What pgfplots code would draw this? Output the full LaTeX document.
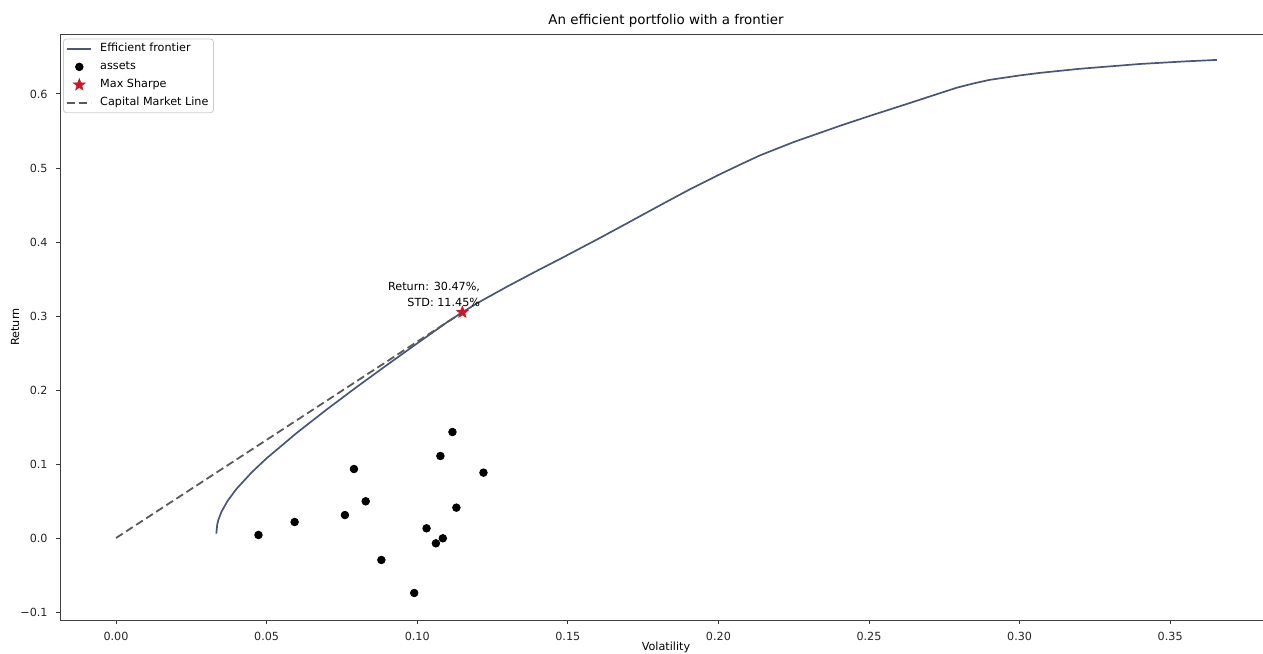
\documentclass[border=0pt]{standalone}
\usepackage{fontspec}
\setmainfont{DejaVu Sans}
\usepackage{pgfplots}
\pgfplotsset{compat=1.18}

\definecolor{frontier}{RGB}{74,86,120}
\definecolor{cml}{RGB}{90,90,90}
\definecolor{sharpe}{RGB}{200,24,40}

% filled five-pointed star
\pgfdeclareplotmark{fstar}{%
  \pgfpathmoveto{\pgfpointpolar{90}{\pgfplotmarksize}}%
  \pgfpathlineto{\pgfpointpolar{126}{0.42\pgfplotmarksize}}%
  \pgfpathlineto{\pgfpointpolar{162}{\pgfplotmarksize}}%
  \pgfpathlineto{\pgfpointpolar{198}{0.42\pgfplotmarksize}}%
  \pgfpathlineto{\pgfpointpolar{234}{\pgfplotmarksize}}%
  \pgfpathlineto{\pgfpointpolar{270}{0.42\pgfplotmarksize}}%
  \pgfpathlineto{\pgfpointpolar{306}{\pgfplotmarksize}}%
  \pgfpathlineto{\pgfpointpolar{342}{0.42\pgfplotmarksize}}%
  \pgfpathlineto{\pgfpointpolar{18}{\pgfplotmarksize}}%
  \pgfpathlineto{\pgfpointpolar{54}{0.42\pgfplotmarksize}}%
  \pgfpathclose
  \pgfusepathqfillstroke}

\pgfplotsset{
  lineleg/.style={legend image code/.code={\draw[sharp corners,##1] (0pt,0pt) -- (12pt,0pt);}},
  markleg/.style={legend image code/.code={\draw[sharp corners,##1] plot coordinates {(6pt,0pt)};}},
}

\newcommand{\smallfont}{\fontsize{5.6pt}{6.7pt}\selectfont}

\begin{document}
\begin{tikzpicture}
\begin{axis}[
    at={(0pt,0pt)}, anchor=south west,
    scale only axis,
    width=606pt, height=293pt,
    xmin=-0.0186, xmax=0.3838,
    ymin=-0.1108, ymax=0.681,
    axis lines*=left,
    xtick={0,0.05,0.10,0.15,0.20,0.25,0.30,0.35},
    xticklabels={0.00,0.05,0.10,0.15,0.20,0.25,0.30,0.35},
    ytick={-0.1,0,0.1,0.2,0.3,0.4,0.5,0.6},
    yticklabels={−0.1,0.0,0.1,0.2,0.3,0.4,0.5,0.6},
    tick pos=left,
    tick align=outside,
    major tick length=2pt,
    tick style={black!80, line width=0.45pt},
    axis line style={black!75, line width=0.45pt},
    tick label style={font=\smallfont, black!85, inner sep=0pt},
    xticklabel style={anchor=north, yshift=-4pt},
    yticklabel style={anchor=east, xshift=-4pt},
    title={An efficient portfolio with a frontier},
    every axis title/.style={at={(axis description cs:0.5,1)}, anchor=base, yshift=4.75pt,
        font=\fontsize{6.7pt}{8pt}\selectfont},
    xlabel={Volatility},
    xlabel style={at={(axis description cs:0.5,0)}, anchor=base, yshift=-15pt, font=\smallfont},
    ylabel={Return},
    ylabel style={at={(axis description cs:-0.0371,0.5)}, anchor=center, rotate=0, font=\smallfont},
    legend style={at={(axis description cs:0.0025,0.992)}, anchor=north west,
        draw=black!20, rounded corners=1.5pt, fill=white,
        font=\smallfont, inner xsep=1.5pt, inner ysep=1.2pt, row sep=1.6pt,
        nodes={inner sep=1pt, text height=4.2pt, text depth=1.2pt},
        /tikz/every odd column/.append style={column sep=3pt}},
    legend cell align=left,
]
\addplot[frontier, line width=0.85pt, no markers, lineleg]
coordinates {
(0.0333,0.0060) (0.0336,0.0182) (0.0340,0.0247) (0.0350,0.0354) (0.0370,0.0499)
(0.0400,0.0664) (0.0450,0.0885) (0.0500,0.1077) (0.0600,0.1420) (0.0700,0.1738)
(0.0800,0.2043) (0.0900,0.2339) (0.1000,0.2630) (0.1100,0.2918) (0.1150,0.3050)
(0.1200,0.3175) (0.1300,0.3400) (0.1400,0.3615) (0.1474,0.3770) (0.1600,0.4040)
(0.1700,0.4260) (0.1806,0.4495) (0.1900,0.4700) (0.2000,0.4905) (0.2072,0.5045)
(0.2138,0.5170) (0.2250,0.5350) (0.2404,0.5570) (0.2500,0.5700) (0.2626,0.5865)
(0.2720,0.5990) (0.2792,0.6085) (0.2845,0.6140) (0.2900,0.6190) (0.3000,0.6250)
(0.3068,0.6285) (0.3200,0.6340) (0.3400,0.6405) (0.3550,0.6440) (0.3655,0.6460)
};
\addlegendentry{Efficient frontier}

\addplot[only marks, mark=*, mark size=1.9pt, black, markleg]
coordinates {
(0.0473,0.0041) (0.0593,0.0216) (0.0760,0.0310) (0.0790,0.0932) (0.0829,0.0496)
(0.0881,-0.0297) (0.0990,-0.0743) (0.1031,0.0131) (0.1062,-0.0072) (0.1085,-0.0004)
(0.1077,0.1108) (0.1117,0.1432) (0.1130,0.0410) (0.1220,0.0883)
};
\addlegendentry{assets}

\addplot[only marks, mark=fstar, mark size=3.2pt, sharpe, line width=0.2pt, markleg]
coordinates {(0.1150,0.3050)};
\addlegendentry{Max Sharpe}

\addplot[cml, line width=0.9pt, dash pattern=on 4pt off 2pt, no markers, lineleg]
coordinates {(0,0) (0.1150,0.3050)};
\addlegendentry{Capital Market Line}

\node[anchor=base east, align=right, inner sep=0pt,
      font=\fontsize{5.6pt}{8pt}\selectfont]
  at (axis cs:0.1210,0.3130) {Return: 30.47\%,\\STD: 11.45\%};
\draw[black!75, line width=0.45pt] (rel axis cs:0,1) -- (rel axis cs:1,1);
\end{axis}
\pgfresetboundingbox
\path[use as bounding box] (-30pt,-16.5pt) rectangle (601.5pt,310pt);
\end{tikzpicture}
\end{document}
